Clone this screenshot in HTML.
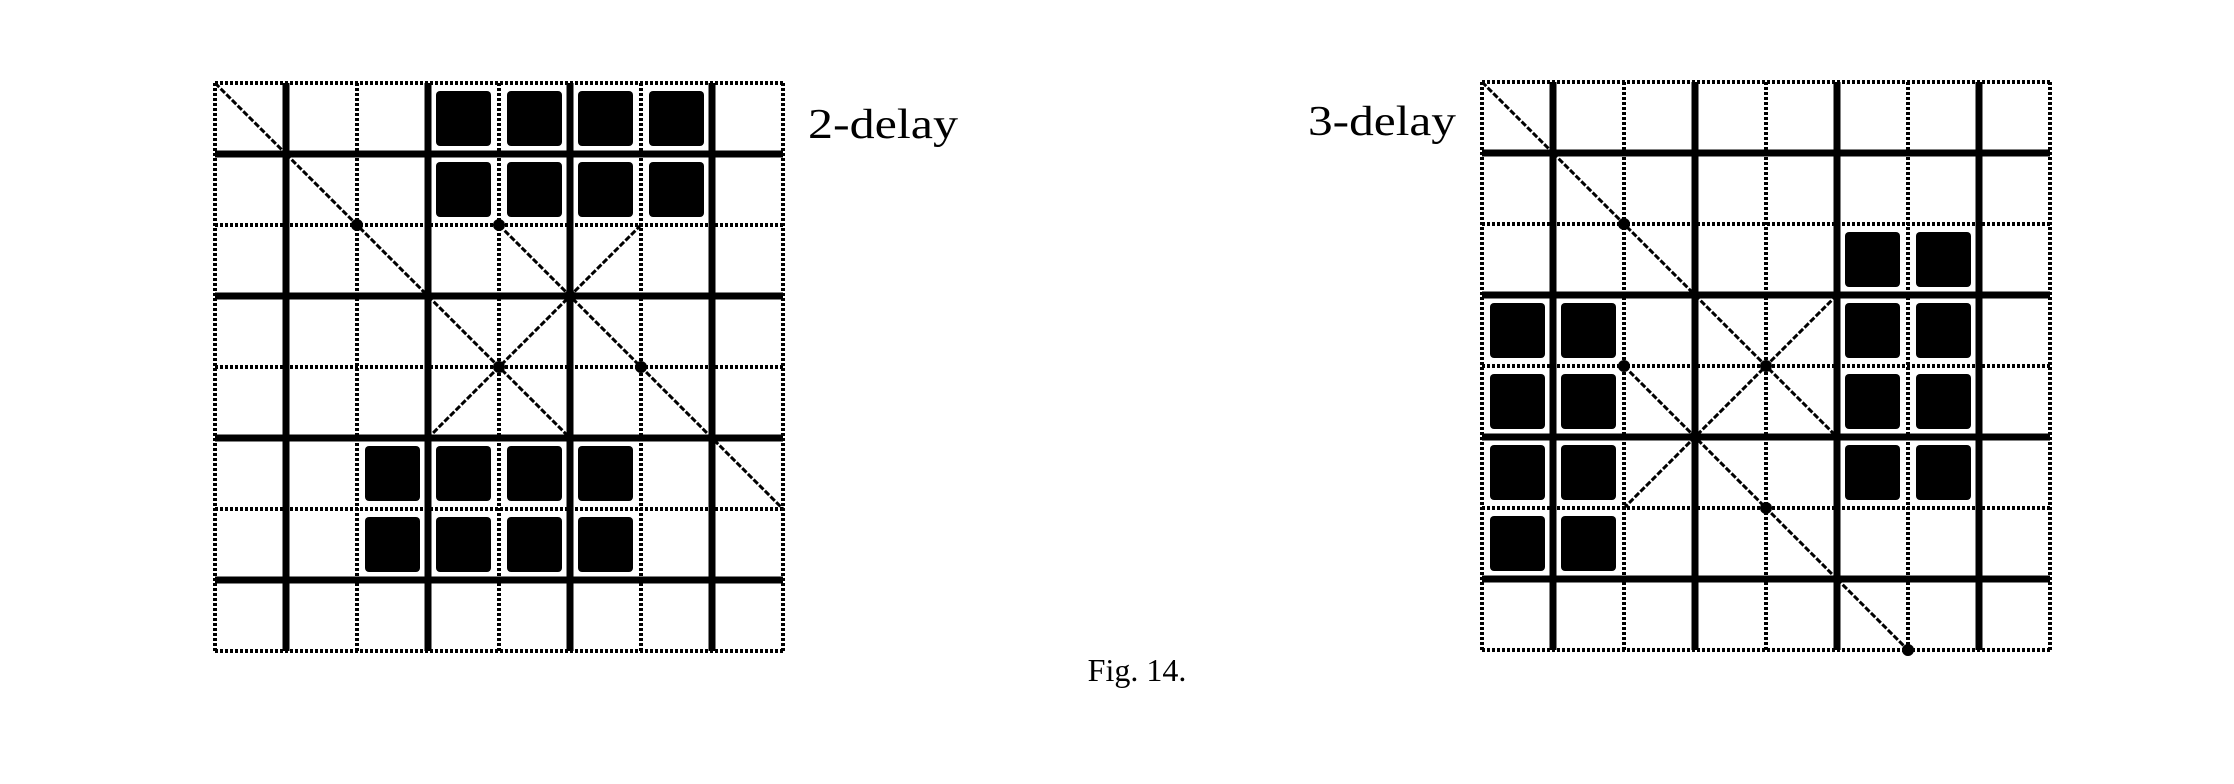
<!DOCTYPE html>
<html><head><meta charset="utf-8"><style>
html,body{margin:0;padding:0;background:#fff;}
svg{display:block;}
text{font-family:"Liberation Serif",serif;fill:#000;}
</style></head><body>
<svg id="fig" width="2234" height="784" viewBox="0 0 2234 784">
<text x="808" y="138" font-size="42" textLength="150" lengthAdjust="spacingAndGlyphs">2-delay</text>
<text x="1308" y="135" font-size="42" textLength="148" lengthAdjust="spacingAndGlyphs">3-delay</text>
<text x="1137" y="681" font-size="32" text-anchor="middle">Fig. 14.</text>
</svg>
<script>
// grid data: filled cells [row, col]
const leftFilled = [[0,3],[0,4],[0,5],[0,6],[1,3],[1,4],[1,5],[1,6],[5,2],[5,3],[5,4],[5,5],[6,2],[6,3],[6,4],[6,5]];
const rightFilled = [[2,5],[2,6],[3,0],[3,1],[3,5],[3,6],[4,0],[4,1],[4,5],[4,6],[5,0],[5,1],[5,5],[5,6],[6,0],[6,1]];
// diagonal lines: [col1,row1,col2,row2] in grid units
const leftLines = [[0,0,1,1],[1,1,3,3],[3,3,5,5],[4,2,8,6],[6,2,3,5]];
const rightLines = [[0,0,1,1],[1,1,3,3],[3,3,5,5],[5,3,2,6],[2,4,5,7],[5,7,6,8]];
const leftDots = [[2,2],[4,2],[5,3],[4,4],[6,4]];
const rightDots = [[2,2],[2,4],[4,4],[3,5],[4,6],[6,8]];
const N = 8;

const svg = document.getElementById('fig');
const NS = 'http://www.w3.org/2000/svg';
function mk(tag, attrs){const e=document.createElementNS(NS,tag);for(const k in attrs)e.setAttribute(k,attrs[k]);return e;}

function drawGrid(name, x0, y0, size, filled, lines, dots){
  const c = size/N;
  const sx = v => x0 + v*c;
  const sy = v => y0 + v*c;
  const g = mk('g',{});
  
  
  svg.appendChild(g);
  filled.forEach(([r,col])=>{
    const rc = mk('rect',{x:sx(col)+8,y:sy(r)+8,width:c-16,height:c-16,rx:4,fill:'#000'});
    
    
    g.appendChild(rc);
  });
  for(let i=0;i<=N;i++){
    const thick = (i%2===1);
    const st = thick ? {stroke:'#000','stroke-width':7} : {stroke:'#000','stroke-width':4,'stroke-dasharray':'3,2'};
    const v = mk('line',Object.assign({x1:sx(i),y1:sy(0),x2:sx(i),y2:sy(N)},st));
    
    
    g.appendChild(v);
    const h = mk('line',Object.assign({x1:sx(0),y1:sy(i),x2:sx(N),y2:sy(i)},st));
    
    
    g.appendChild(h);
  }
  lines.forEach(([a,b,cc,d])=>{
    const l = mk('line',{x1:sx(a),y1:sy(b),x2:sx(cc),y2:sy(d),stroke:'#000','stroke-width':3,'stroke-dasharray':'6,2'});
    
    
    g.appendChild(l);
  });
  dots.forEach(([a,b])=>{
    const d = mk('circle',{cx:sx(a),cy:sy(b),r:6,fill:'#000'});
    
    
    g.appendChild(d);
  });
}
drawGrid('grid-2-delay', 215, 83, 568, leftFilled, leftLines, leftDots);
drawGrid('grid-3-delay', 1482, 82, 568, rightFilled, rightLines, rightDots);
</script>
</body></html>
